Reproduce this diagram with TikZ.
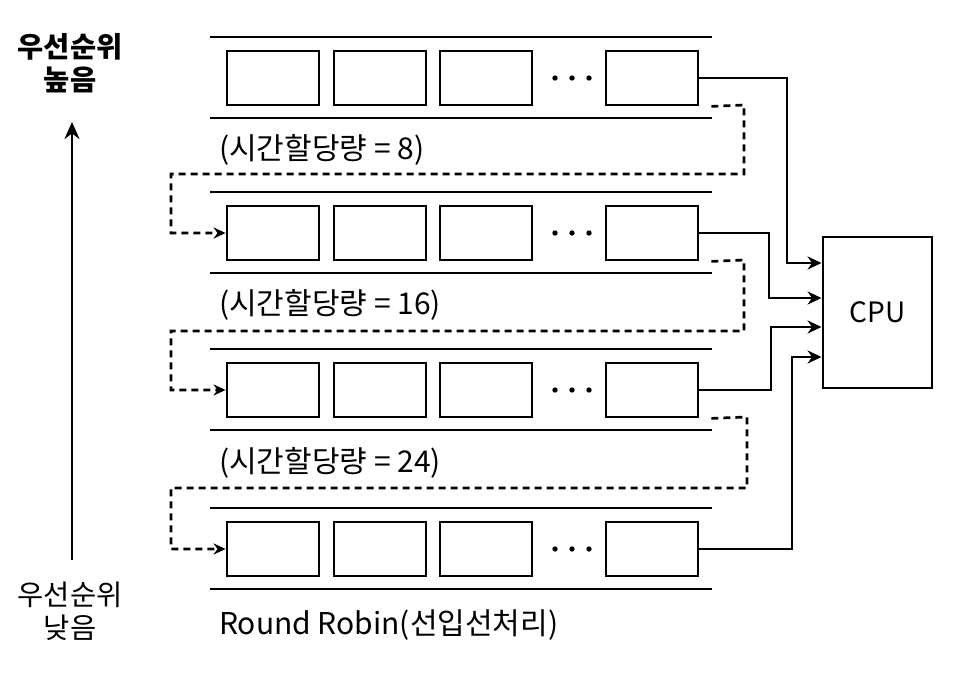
\documentclass[tikz,border=0pt]{standalone}
\usepackage{fontspec}
\setmainfont{Noto Sans CJK KR}
\usetikzlibrary{arrows.meta,calc}
\begin{document}
\begin{tikzpicture}[x=1pt,y=-1pt,
  qbox/.style={draw, line width=2.8pt, minimum width=92pt, minimum height=54pt, inner sep=0pt},
  qline/.style={line width=2.9pt},
  flow/.style={line width=2.7pt, -{Stealth[length=14pt,width=13pt]}},
  dflow/.style={line width=2.7pt, dash pattern=on 7pt off 5pt, -{Stealth[length=12pt,width=11pt]}},
  lbl/.style={font=\fontsize{30}{34}\selectfont, anchor=west, inner sep=0pt},
  side/.style={font=\fontsize{28.5}{33}\selectfont, align=center, inner sep=0pt},
]
\useasboundingbox (0,0) rectangle (969,677);

\foreach \k/\y in {1/78,2/233,3/390,4/549} {
  \node[qbox] (b\k-1) at (273,\y) {};
  \node[qbox] (b\k-2) at (380,\y) {};
  \node[qbox] (b\k-3) at (486,\y) {};
  \node[qbox] (b\k-4) at (652,\y) {};
  \fill (555,\y) circle (2.7pt) (572,\y) circle (2.7pt) (589,\y) circle (2.7pt);
  \draw[qline] (210,\y-41) -- (712,\y-41);
  \draw[qline] (210,\y+40) -- (712,\y+40);
}

\node[lbl] (t1) at (219,150) {(시간할당량 = 8)};
\node[lbl] (t2) at (219,305) {(시간할당량 = 16)};
\node[lbl] (t3) at (219,463) {(시간할당량 = 24)};
\node[lbl] (t4) at (219,625) {Round Robin(선입선처리)};

\node[draw, line width=2.9pt, minimum width=109pt, minimum height=151pt, inner sep=0pt,
      font=\fontsize{28}{32}\selectfont] (cpu) at (877.5,312.5) {CPU};

% solid feeds to CPU
\coordinate (j1) at (787,263);
\coordinate (j2) at (769,298);
\coordinate (j3) at (771,327);
\coordinate (j4) at (792,357);
\draw[flow] (b1-4.east) -| (j1) -- (j1 -| cpu.west);
\draw[flow] (b2-4.east) -| (j2) -- (j2 -| cpu.west);
\draw[flow] (b3-4.east) -| (j3) -- (j3 -| cpu.west);
\draw[flow] (b4-4.east) -| (j4) -- (j4 -| cpu.west);

% dashed demotions
\draw[dflow] ([xshift=12pt]b1-4.south east) -- (744,105) -- (744,174) -- (171,174) -- (171,233) -- (b2-1.west);
\draw[dflow] ([xshift=12pt]b2-4.south east) -- (744,260) -- (744,331) -- (171,331) -- (171,390) -- (b3-1.west);
\draw[dflow] ([xshift=12pt]b3-4.south east) -- (747,417) -- (747,488) -- (171,488) -- (171,549) -- (b4-1.west);

% priority axis
\node[side, font=\fontsize{28.5}{33}\selectfont\bfseries] (hi) at (70,63) {우선순위\\높음};
\node[side] (lo) at (70,611) {우선순위\\낮음};
\coordinate (abot) at (72,560);
\coordinate (atop) at (72,122);
\draw[line width=2.8pt, -{Stealth[length=17pt,width=15pt]}] (abot) -- (atop);
\end{tikzpicture}
\end{document}
